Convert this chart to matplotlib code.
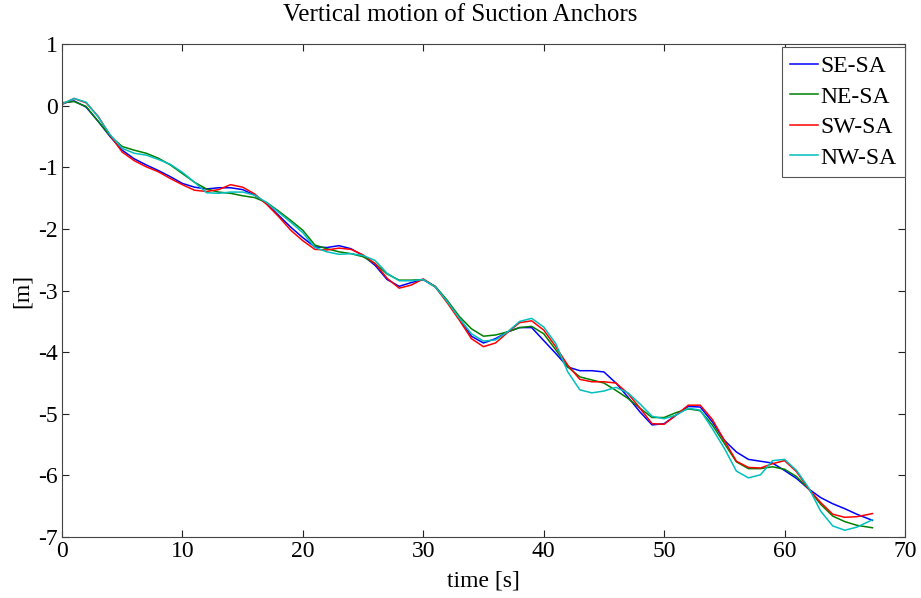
import matplotlib

matplotlib.use("Agg")

import matplotlib.pyplot as plt

# time axis [s] shared by all four anchors
time_s = [0, 1, 2, 3, 4, 5, 6, 7, 8, 9, 10, 11, 12, 13, 14, 15, 16, 17, 18, 19,
          20, 21, 22, 23, 24, 25, 26, 27, 28, 29, 30, 31, 32, 33, 34, 35, 36, 37, 38, 39,
          40, 41, 42, 43, 44, 45, 46, 47, 48, 49, 50, 51, 52, 53, 54, 55, 56, 57, 58, 59,
          60, 61, 62, 63, 64, 65, 66, 67.3]

se_sa = [0.04, 0.08, -0.02, -0.25, -0.50, -0.72, -0.86, -0.96, -1.05, -1.15,
         -1.26, -1.32, -1.35, -1.33, -1.33, -1.36, -1.45, -1.59, -1.78, -1.97,
         -2.14, -2.29, -2.30, -2.27, -2.32, -2.43, -2.59, -2.82, -2.93, -2.87,
         -2.82, -2.94, -3.18, -3.45, -3.74, -3.85, -3.78, -3.67, -3.60, -3.60,
         -3.81, -4.02, -4.24, -4.30, -4.30, -4.32, -4.50, -4.73, -4.97, -5.18,
         -5.16, -5.02, -4.88, -4.89, -5.13, -5.43, -5.62, -5.74, -5.77, -5.80,
         -5.92, -6.05, -6.22, -6.36, -6.46, -6.54, -6.63, -6.73]

ne_sa = [0.05, 0.07, -0.01, -0.25, -0.49, -0.66, -0.72, -0.77, -0.85, -0.96,
         -1.10, -1.24, -1.35, -1.40, -1.42, -1.46, -1.49, -1.57, -1.71, -1.86,
         -2.02, -2.26, -2.32, -2.37, -2.40, -2.45, -2.56, -2.73, -2.83, -2.83,
         -2.82, -2.93, -3.16, -3.42, -3.62, -3.74, -3.72, -3.67, -3.60, -3.58,
         -3.70, -3.96, -4.24, -4.40, -4.45, -4.50, -4.62, -4.75, -4.91, -5.06,
         -5.06, -4.98, -4.92, -4.95, -5.18, -5.48, -5.78, -5.89, -5.89, -5.86,
         -5.90, -6.02, -6.22, -6.47, -6.66, -6.75, -6.81, -6.85]

sw_sa = [0.02, 0.12, 0.05, -0.17, -0.48, -0.75, -0.89, -0.99, -1.07, -1.18,
         -1.28, -1.37, -1.39, -1.36, -1.28, -1.32, -1.43, -1.60, -1.80, -2.02,
         -2.19, -2.33, -2.34, -2.31, -2.33, -2.42, -2.56, -2.80, -2.96, -2.91,
         -2.81, -2.94, -3.20, -3.48, -3.78, -3.91, -3.85, -3.68, -3.52, -3.49,
         -3.64, -3.91, -4.21, -4.44, -4.48, -4.48, -4.50, -4.67, -4.91, -5.16,
         -5.17, -5.02, -4.86, -4.86, -5.09, -5.43, -5.77, -5.87, -5.88, -5.81,
         -5.76, -5.94, -6.22, -6.44, -6.63, -6.68, -6.67, -6.62]

nw_sa = [0.03, 0.12, 0.06, -0.18, -0.47, -0.69, -0.77, -0.80, -0.87, -0.95,
         -1.08, -1.24, -1.41, -1.42, -1.40, -1.40, -1.45, -1.57, -1.73, -1.89,
         -2.06, -2.30, -2.37, -2.41, -2.40, -2.43, -2.51, -2.72, -2.84, -2.84,
         -2.82, -2.94, -3.18, -3.45, -3.70, -3.82, -3.80, -3.67, -3.50, -3.45,
         -3.59, -3.86, -4.32, -4.61, -4.66, -4.63, -4.57, -4.66, -4.84, -5.04,
         -5.08, -5.02, -4.91, -4.94, -5.24, -5.56, -5.93, -6.04, -5.99, -5.76,
         -5.74, -5.92, -6.20, -6.58, -6.82, -6.89, -6.84, -6.72]

series = [
    ("SE-SA", se_sa, (0.0, 0.0, 1.0)),
    ("NE-SA", ne_sa, (0.0, 0.5, 0.0)),
    ("SW-SA", sw_sa, (1.0, 0.0, 0.0)),
    ("NW-SA", nw_sa, (0.0, 0.75, 0.75)),
]

plt.rcParams["font.family"] = ["Liberation Serif", "DejaVu Serif"]
plt.rcParams["axes.unicode_minus"] = False

fig = plt.figure(figsize=(9.21, 5.98), dpi=100)
ax = fig.add_axes([0.0673, 0.102, 0.9153, 0.824])

for name, values, color in series:
    ax.plot(time_s, values, color=color, linewidth=1.1, label=name)

ax.set_xlim(0, 70)
ax.set_ylim(-7, 1)
ax.set_xticks(range(0, 71, 10))
ax.set_yticks(range(-7, 2))
ax.tick_params(direction="in", length=5, width=0.8, top=True, right=True,
               labelsize=17, pad=3, colors="#222222", labelcolor="black")
for spine in ax.spines.values():
    spine.set_color("#444444")
    spine.set_linewidth(0.8)

# MATLAB centres the title on the figure, slightly left of the axes centre
ax.set_title("Vertical motion of Suction Anchors", fontsize=18, pad=17, x=0.472)
ax.set_xlabel("time [s]", fontsize=17, labelpad=6)
ax.set_ylabel("[m]", fontsize=17, labelpad=4)

leg = ax.legend(loc="upper right", bbox_to_anchor=(1.0, 0.994), fontsize=17,
                handlelength=1.2, handletextpad=0.1, labelspacing=0.38, borderpad=0.35,
                borderaxespad=0.0, fancybox=False, framealpha=1.0, edgecolor="#555555")
leg.get_frame().set_linewidth(0.8)

fig.savefig("out.png", dpi=100)
